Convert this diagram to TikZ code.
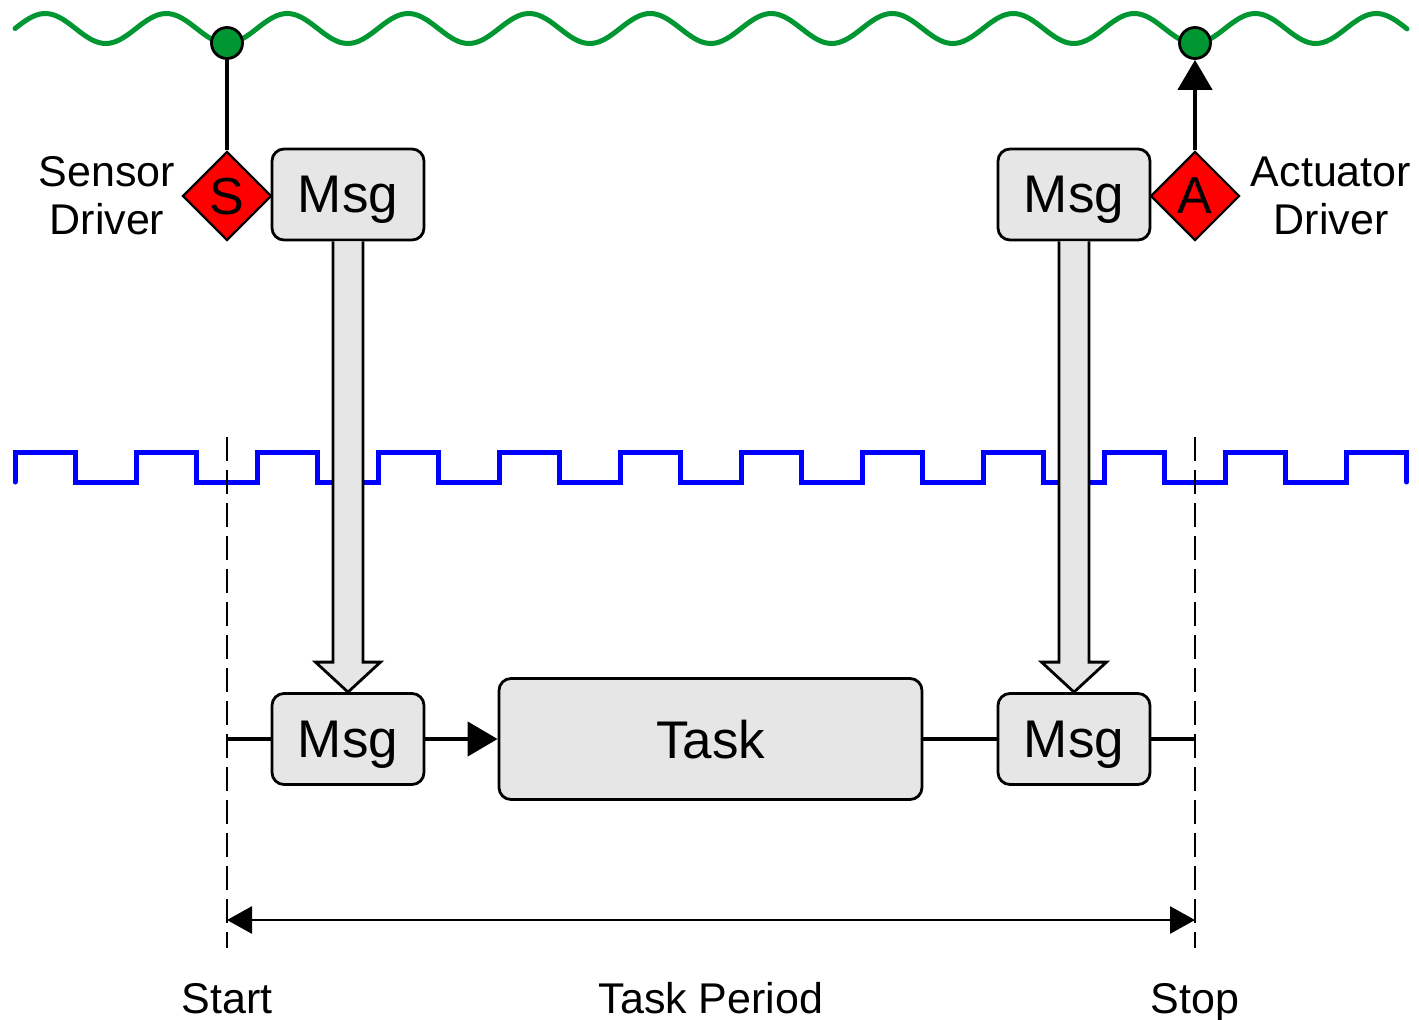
\documentclass[tikz,border=0pt]{standalone}
\usepackage{fontspec}
\setmainfont{Liberation Sans}
\usetikzlibrary{arrows.meta, calc, shapes.geometric, positioning}
\definecolor{busgreen}{RGB}{0,150,50}
\definecolor{msggray}{RGB}{230,230,230}
\tikzset{
  msg/.style={draw, line width=2.8pt, fill=msggray, rounded corners=12pt, minimum width=152pt, minimum height=91pt, inner sep=0pt, text depth=0pt, font=\fontsize{53}{60}\selectfont},
  drv/.style={diamond, draw, line width=2.2pt, fill=red, minimum width=89pt, minimum height=89pt, inner sep=0pt, text depth=0pt, font=\fontsize{52}{56}\selectfont},
  tap/.style={circle, draw, line width=2.8pt, fill=busgreen, minimum size=31pt, inner sep=0pt},
  lbl/.style={font=\fontsize{43}{48}\selectfont, align=center, inner sep=0pt},
  tip/.style={-{Triangle[length=30pt, width=34pt]}},
  dimtip/.style={{Triangle[length=25pt, width=27pt]}-{Triangle[length=25pt, width=27pt]}}
}

\begin{document}
\begin{tikzpicture}[x=1pt, y=-1pt]
\useasboundingbox (0,0) rectangle (1419,1020);
\draw[busgreen, line width=5pt, line cap=round, domain=15:1407, samples=400, variable=\x] plot ({\x}, {28.5 - 15*sin(2.97521*(\x-15))});
\draw[blue, line width=5pt, line cap=round] (15,482) foreach \k in {1,...,11} { -- ++(0,-30) -- ++(60.5,0) -- ++(0,30) -- ++(60.5,0) } -- ++(0,-30) -- ++(60.5,0) -- ++(0,30);

\coordinate (t0top) at (227,437);
\coordinate (t0bot) at (227,948);
\coordinate (t1top) at (1195,437);
\coordinate (t1bot) at (1195,948);
\draw[line width=2.3pt, dash pattern=on 24pt off 9pt] (t0top) -- (t0bot);
\draw[line width=2.3pt, dash pattern=on 24pt off 9pt] (t1top) -- (t1bot);

\node[tap] (tapS) at (227,43) {};
\node[tap] (tapA) at (1195,43) {};
\node[drv] (drvS) at (227,196) {S};
\node[drv] (drvA) at (1195,196) {A};
\node[msg] (msgS) at (348,194.5) {Msg};
\node[msg] (msgA) at (1074,194.5) {Msg};
\node[lbl] (lblS) at (107,196) {Sensor\\Driver};
\node[lbl] (lblA) at (1331,196) {Actuator\\Driver};
\draw[line width=4pt] (tapS) -- (drvS);
\draw[line width=4.5pt, tip] (drvA) -- (tapA);

\node[msg] (msgIn) at (348,739) {Msg};
\node[msg, minimum width=423pt, minimum height=121pt] (task) at (710.5,739) {Task};
\node[msg] (msgOut) at (1074,739) {Msg};
\draw[line width=4.5pt] (msgIn.west -| t0top) -- (msgIn);
\draw[line width=4.5pt, tip] (msgIn) -- (task);
\draw[line width=4.5pt] (task) -- (msgOut);
\draw[line width=4.5pt] (msgOut) -- (msgOut.east -| t1top);

\draw[line width=2.8pt, fill=msggray] ($(msgS.south)+(-15,0)$) -- ($(msgIn.north)+(-15,-30)$) -- ($(msgIn.north)+(-32.5,-30)$) -- (msgIn.north) -- ($(msgIn.north)+(32.5,-30)$) -- ($(msgIn.north)+(15,-30)$) -- ($(msgS.south)+(15,0)$);
\draw[line width=2.8pt, fill=msggray] ($(msgA.south)+(-15,0)$) -- ($(msgOut.north)+(-15,-30)$) -- ($(msgOut.north)+(-32.5,-30)$) -- (msgOut.north) -- ($(msgOut.north)+(32.5,-30)$) -- ($(msgOut.north)+(15,-30)$) -- ($(msgA.south)+(15,0)$);

\node[lbl, anchor=base] (start) at (227,1013) {Start};
\node[lbl, anchor=base] (period) at (711,1013) {Task Period};
\node[lbl, anchor=base] (stop) at (1195,1013) {Stop};
\draw[line width=2.8pt, dimtip] (t0top |- 0,920) -- (t1top |- 0,920);
\end{tikzpicture}
\end{document}
